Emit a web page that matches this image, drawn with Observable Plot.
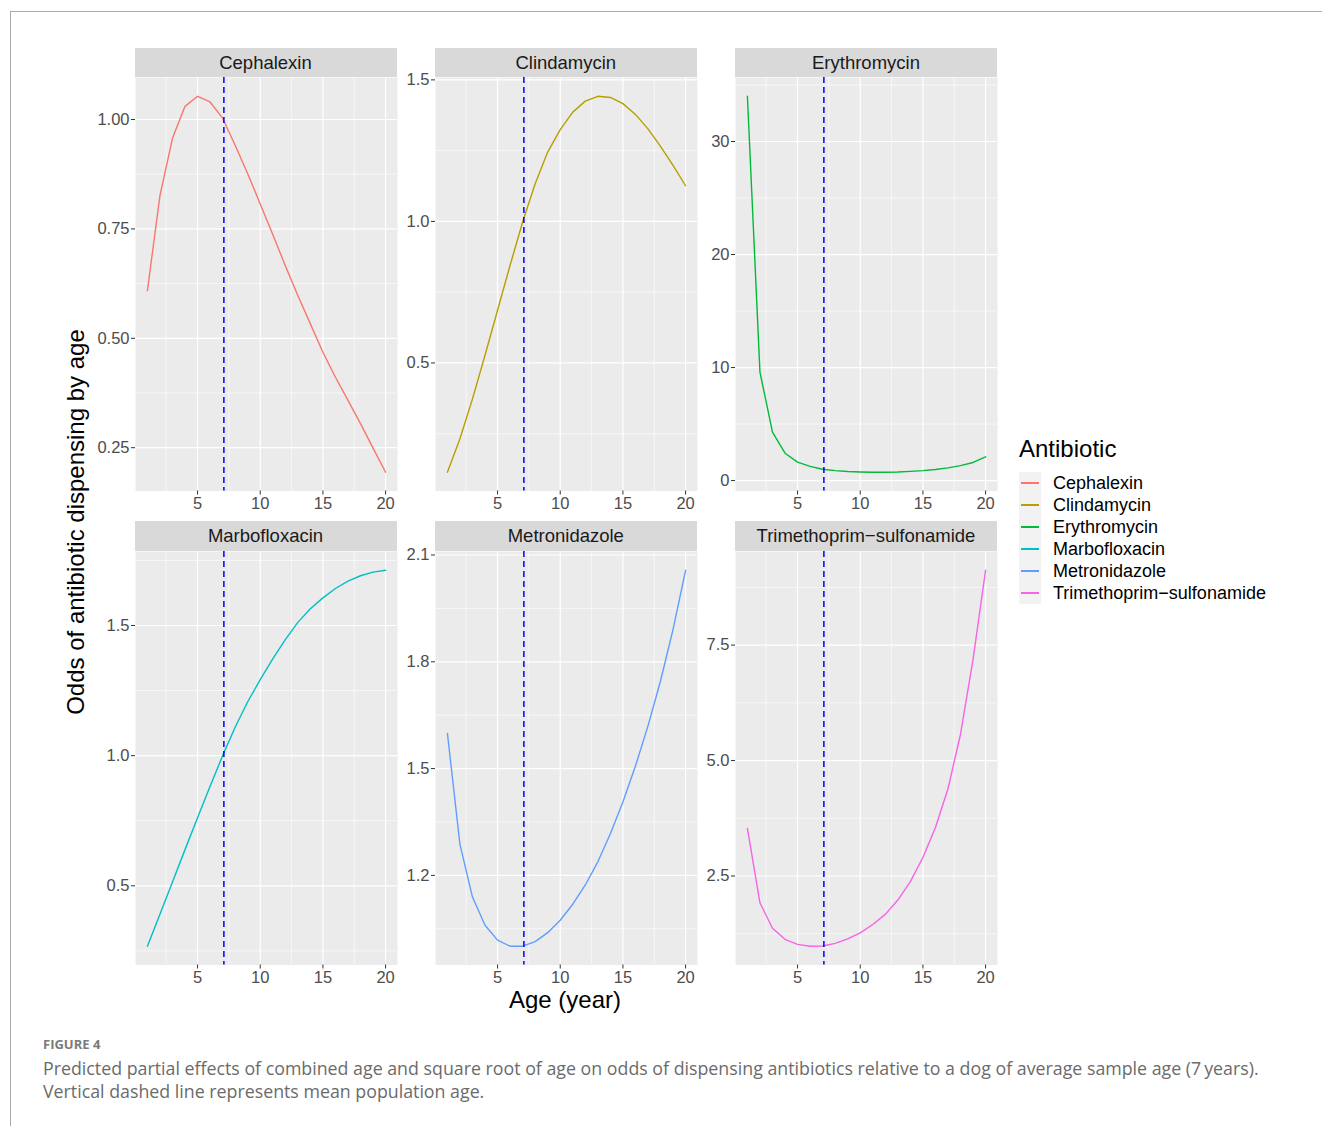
<!DOCTYPE html>
<html>
<head>
<meta charset="utf-8">
<script src="https://cdn.jsdelivr.net/npm/d3@7"></script>
<script src="https://cdn.jsdelivr.net/npm/@observablehq/plot@0.6"></script>
<style>
  body { margin: 0; background: #ffffff; }
  #root { position: relative; width: 1322px; height: 1126px; overflow: hidden; background: #fff;
          font-family: "Liberation Sans", Arial, Helvetica, sans-serif; }
  .abs { position: absolute; }
  .strip { position: absolute; background: #D9D9D9; color: #1A1A1A; font-size: 18.5px;
           text-align: center; white-space: nowrap; }
  .frame { position: absolute; left: 10px; top: 11px; width: 1320px; height: 1120px;
           border-top: 1.5px solid #ababab; border-left: 1.5px solid #ababab; box-sizing: border-box; }
  .cap { position: absolute; font-family: "Open Sans", "Noto Sans", sans-serif; color: #6b6b6b; white-space: nowrap; }
</style>
</head>
<body>
<div id="root"></div>
<script>
// ---------------- data ----------------
const ages = [1, 2, 3, 4, 5, 6, 7, 8, 9, 10, 11, 12, 13, 14, 15, 16, 17, 18, 19, 20];
const antibiotics = ["Cephalexin", "Clindamycin", "Erythromycin", "Marbofloxacin", "Metronidazole", "Trimethoprim\u2212sulfonamide"];
const colors = ["#F8766D", "#B79F00", "#00BA38", "#00BFC4", "#619CFF", "#F564E3"];

const cephalexin    = [0.609, 0.826, 0.957, 1.030, 1.053, 1.040, 1.003, 0.941, 0.876, 0.807, 0.737, 0.666, 0.598, 0.533, 0.468, 0.411, 0.358, 0.305, 0.249, 0.194];
const clindamycin   = [0.114, 0.232, 0.373, 0.527, 0.686, 0.845, 0.998, 1.133, 1.245, 1.324, 1.386, 1.425, 1.442, 1.438, 1.416, 1.378, 1.327, 1.265, 1.198, 1.126];
const erythromycin  = [34.0, 9.6, 4.29, 2.42, 1.63, 1.25, 1.00, 0.88, 0.80, 0.76, 0.74, 0.74, 0.76, 0.81, 0.88, 0.98, 1.12, 1.32, 1.60, 2.10];
const marbofloxacin = [0.268, 0.391, 0.515, 0.639, 0.761, 0.882, 1.000, 1.109, 1.207, 1.292, 1.372, 1.446, 1.512, 1.564, 1.606, 1.642, 1.670, 1.691, 1.705, 1.712];
const metronidazole = [1.599, 1.287, 1.139, 1.060, 1.018, 1.001, 1.001, 1.014, 1.039, 1.074, 1.119, 1.173, 1.238, 1.317, 1.406, 1.507, 1.620, 1.746, 1.891, 2.057];
const trimethoprim  = [3.53, 1.92, 1.37, 1.13, 1.02, 0.98, 0.985, 1.04, 1.14, 1.27, 1.45, 1.67, 1.98, 2.38, 2.90, 3.55, 4.39, 5.57, 7.19, 9.12];

const xTicks = [5, 10, 15, 20];
const xMinorTicks = [2.5, 7.5, 12.5, 17.5];
const cephalexinTicks = [0.25, 0.5, 0.75, 1.0];
const clindamycinTicks = [0.5, 1.0, 1.5];
const erythromycinTicks = [0, 10, 20, 30];
const marbofloxacinTicks = [0.5, 1.0, 1.5];
const metronidazoleTicks = [1.2, 1.5, 1.8, 2.1];
const trimethoprimTicks = [2.5, 5.0, 7.5];
const meanAge = 7.1;

const texts = {
  yTitle: "Odds of antibiotic dispensing by age",
  xTitle: "Age (year)",
  legendTitle: "Antibiotic",
  figLabel: "FIGURE 4",
  caption1: "Predicted partial effects of combined age and square root of age on odds of dispensing antibiotics relative to a dog of average sample age (7\u2009years).",
  caption2: "Vertical dashed line represents mean population age."
};

// ---------------- layout ----------------
const root = document.getElementById("root");
const ML = 70, PW = 262, PH = 413.5, MB = 34;
const colLeft = [134.5, 434.8, 735];
const rowStripTop = [47.5, 521];
const STRIP_H = 29.5;

function add(el) { root.appendChild(el); return el; }
function div(cls, style, text) {
  const d = document.createElement("div");
  if (cls) d.className = cls;
  Object.assign(d.style, style);
  if (text != null) d.textContent = text;
  return add(d);
}

div("frame", {});

function panel(idx, values, ticks, fmt) {
  const col = idx % 3, row = Math.floor(idx / 3);
  const left = colLeft[col], stripTop = rowStripTop[row], top = stripTop + STRIP_H;
  const data = ages.map((a, i) => ({age: a, odds: values[i]}));
  const lo = d3.min(values), hi = d3.max(values), pad = (hi - lo) * 0.05;
  const domain = [lo - pad, hi + pad];
  const step = ticks[1] - ticks[0];
  const minor = [ticks[0] - step / 2, ...ticks.map(t => t + step / 2)].filter(v => v > domain[0] && v < domain[1]);
  const chart = Plot.plot({
    width: ML + PW, height: PH + MB,
    marginLeft: ML, marginRight: 0, marginTop: 0, marginBottom: MB,
    x: {domain: [0.05, 20.95], axis: null},
    y: {domain, axis: null},
    style: {background: "transparent", fontSize: "16.5px", fontFamily: "\"Liberation Sans\", Arial, sans-serif", color: "#4D4D4D", overflow: "visible"},
    marks: [
      Plot.frame({fill: "#EBEBEB", stroke: "none"}),
      Plot.ruleX(xMinorTicks, {stroke: "#ffffff", strokeWidth: 0.6}),
      Plot.ruleY(minor, {stroke: "#ffffff", strokeWidth: 0.6}),
      Plot.ruleX(xTicks, {stroke: "#ffffff", strokeWidth: 1.2}),
      Plot.ruleY(ticks, {stroke: "#ffffff", strokeWidth: 1.2}),
      Plot.line(data, {x: "age", y: "odds", stroke: colors[idx], strokeWidth: 1.4}),
      Plot.ruleX([meanAge], {stroke: "#0000FF", strokeWidth: 1.5, strokeDasharray: "6,4"}),
      Plot.axisX(xTicks, {tickSize: 4, tickPadding: 2, label: null, stroke: "#333333", fill: "#4D4D4D"}),
      Plot.axisY(ticks, {tickSize: 4, tickPadding: 2, label: null, tickFormat: fmt, stroke: "#333333", fill: "#4D4D4D"})
    ]
  });
  chart.style.position = "absolute";
  chart.style.left = (left - ML) + "px";
  chart.style.top = top + "px";
  add(chart);
  div("strip", {left: left + "px", top: stripTop + "px", width: PW + "px", height: STRIP_H + "px", lineHeight: STRIP_H + "px"}, antibiotics[idx]);
}

panel(0, cephalexin, cephalexinTicks, d3.format(".2f"));
panel(1, clindamycin, clindamycinTicks, d3.format(".1f"));
panel(2, erythromycin, erythromycinTicks, d3.format("d"));
panel(3, marbofloxacin, marbofloxacinTicks, d3.format(".1f"));
panel(4, metronidazole, metronidazoleTicks, d3.format(".1f"));
panel(5, trimethoprim, trimethoprimTicks, d3.format(".1f"));

// axis titles
div("abs", {left: (76 - 350) + "px", top: (522 - 16) + "px", width: "700px", height: "32px", lineHeight: "32px",
  textAlign: "center", fontSize: "24px", color: "#000", transform: "rotate(-90deg)", whiteSpace: "nowrap"}, texts.yTitle);
div("abs", {left: (565 - 150) + "px", top: (1000 - 16) + "px", width: "300px", height: "32px", lineHeight: "32px",
  textAlign: "center", fontSize: "24px", color: "#000", whiteSpace: "nowrap"}, texts.xTitle);

// legend
div("abs", {left: "1019px", top: (449 - 15) + "px", height: "30px", lineHeight: "30px", fontSize: "24px", color: "#000"}, texts.legendTitle);
antibiotics.forEach((name, i) => {
  const cy = 483 + i * 22;
  div("abs", {left: "1019px", top: (cy - 11) + "px", width: "22px", height: "22px", background: "#F2F2F2"});
  div("abs", {left: "1021px", top: (cy - 0.7) + "px", width: "18px", height: "1.4px", background: colors[i]});
  div("abs", {left: "1053px", top: (cy - 11) + "px", height: "22px", lineHeight: "22px", fontSize: "18px", color: "#000", whiteSpace: "nowrap"}, name);
});

// caption
div("cap", {left: "43px", top: (1044 - 10) + "px", height: "20px", lineHeight: "20px", fontSize: "13px", fontWeight: "700", color: "#7a7a7a"}, texts.figLabel);
div("cap", {left: "43px", top: (1068 - 12) + "px", height: "24px", lineHeight: "24px", fontSize: "17.8px"}, texts.caption1);
div("cap", {left: "43px", top: (1091 - 12) + "px", height: "24px", lineHeight: "24px", fontSize: "17.8px"}, texts.caption2);
</script>
</body>
</html>
